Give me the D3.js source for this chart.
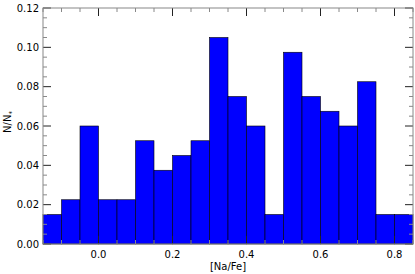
<!DOCTYPE html>
<html lang="en">
<head>
<meta charset="UTF-8">
<script src="https://d3js.org/d3.v7.min.js"></script>
<style>
  body { margin: 0; background: #fff; }
  text { font-family: "DejaVu Sans", sans-serif; font-size: 10px; fill: #000; }
</style>
</head>
<body>
<div id="chart"></div>
<script>
// histogram bin edges (start of each bin, width 0.05) and fractions
const binStarts = [-0.15, -0.10, -0.05, 0.00, 0.05, 0.10, 0.15, 0.20, 0.25, 0.30,
                   0.35, 0.40, 0.45, 0.50, 0.55, 0.60, 0.65, 0.70, 0.75, 0.80];
const fractions = [0.015, 0.0225, 0.06, 0.0225, 0.0225, 0.0525, 0.0375, 0.045, 0.0525, 0.105,
                   0.075, 0.06, 0.015, 0.0975, 0.075, 0.0675, 0.06, 0.0825, 0.015, 0.015];
const binWidth = 0.05;
const xTicks = [0.0, 0.2, 0.4, 0.6, 0.8];
const yTicks = [0.00, 0.02, 0.04, 0.06, 0.08, 0.10, 0.12];

const W = 415, H = 274;
const margin = { top: 8, right: 2, bottom: 30, left: 43 };
const width = W - margin.left - margin.right;
const height = H - margin.top - margin.bottom;

const x = d3.scaleLinear().domain([-0.15, 0.85]).range([0, width]);
const y = d3.scaleLinear().domain([0, 0.12]).range([height, 0]);

const svg = d3.select("#chart").append("svg")
  .attr("width", W).attr("height", H)
  .append("g")
  .attr("transform", `translate(${margin.left},${margin.top})`);

// bars
svg.selectAll("rect.bar")
  .data(binStarts.map((s, i) => ({ s, v: fractions[i] })))
  .enter().append("rect")
  .attr("class", "bar")
  .attr("x", d => x(d.s))
  .attr("y", d => y(d.v))
  .attr("width", d => x(d.s + binWidth) - x(d.s))
  .attr("height", d => height - y(d.v))
  .attr("fill", "#0000ff")
  .attr("stroke", "#000")
  .attr("stroke-width", 0.6);

// minor ticks
const xMinor = d3.range(-0.15, 0.851, 0.05).filter(v => !xTicks.some(t => Math.abs(t - v) < 1e-6));
const yMinor = d3.range(0, 0.1201, 0.005).filter(v => !yTicks.some(t => Math.abs(t - v) < 1e-6));

const tickG = svg.append("g");
xMinor.forEach(v => {
  tickG.append("line").attr("x1", x(v)).attr("x2", x(v)).attr("y1", height).attr("y2", height - 4).attr("stroke", "#888");
  tickG.append("line").attr("x1", x(v)).attr("x2", x(v)).attr("y1", 0).attr("y2", 4).attr("stroke", "#888");
});
xTicks.forEach(v => {
  tickG.append("line").attr("x1", x(v)).attr("x2", x(v)).attr("y1", height).attr("y2", height - 8).attr("stroke", "#222");
  tickG.append("line").attr("x1", x(v)).attr("x2", x(v)).attr("y1", 0).attr("y2", 8).attr("stroke", "#222");
});
yMinor.forEach(v => {
  tickG.append("line").attr("x1", 0).attr("x2", 4).attr("y1", y(v)).attr("y2", y(v)).attr("stroke", "#888");
  tickG.append("line").attr("x1", width).attr("x2", width - 4).attr("y1", y(v)).attr("y2", y(v)).attr("stroke", "#888");
});
yTicks.forEach(v => {
  tickG.append("line").attr("x1", 0).attr("x2", 8).attr("y1", y(v)).attr("y2", y(v)).attr("stroke", "#222");
  tickG.append("line").attr("x1", width).attr("x2", width - 8).attr("y1", y(v)).attr("y2", y(v)).attr("stroke", "#222");
});

// frame
svg.append("rect")
  .attr("x", 0).attr("y", 0).attr("width", width).attr("height", height)
  .attr("fill", "none").attr("stroke", "#888").attr("stroke-width", 1);

// tick labels
svg.selectAll("text.xt").data(xTicks).enter().append("text")
  .attr("x", d => x(d)).attr("y", height + 14)
  .attr("text-anchor", "middle")
  .text(d => d3.format(".1f")(d));

svg.selectAll("text.yt").data(yTicks).enter().append("text")
  .attr("x", -4).attr("y", d => y(d) + 3.5)
  .attr("text-anchor", "end")
  .text(d => d3.format(".2f")(d));

// axis labels
svg.append("text")
  .attr("x", width / 2).attr("y", height + 26)
  .attr("text-anchor", "middle")
  .text("[Na/Fe]");

const yl = svg.append("text")
  .attr("transform", `translate(${-32},${height / 2 - 4}) rotate(-90)`)
  .attr("text-anchor", "middle");
yl.append("tspan").text("N/N");
yl.append("tspan").attr("dy", 3).attr("font-size", "7px").text("*");
</script>
</body>
</html>
